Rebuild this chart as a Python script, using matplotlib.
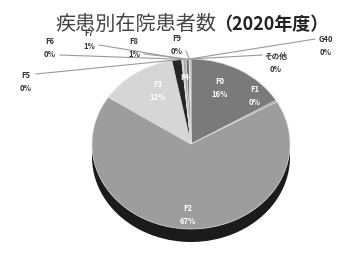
import matplotlib
matplotlib.use('Agg')
import matplotlib.pyplot as plt
import numpy as np

plt.rcParams['font.family'] = ['Noto Sans CJK JP', 'DejaVu Sans']

# share of inpatients per disease group (percent)
groups = ['F0', 'F1', 'F2', 'F3', 'F4', 'F5', 'F6', 'F7', 'F8', 'F9', 'G40', 'その他']
shares = [16.4, 0.3, 67.4, 12.6, 1.6, 0.1, 0.1, 0.5, 0.5, 0.05, 0.05, 0.2]
pct_labels = ['16%', '0%', '67%', '12%', '', '0%', '0%', '1%', '1%', '0%', '0%', '0%']

top_colors = ['#7a7a7a', '#858585', '#9d9d9d', '#d6d6d6', '#262626', '#bdbdbd',
              '#8c8c8c', '#a8a8a8', '#707070', '#b0b0b0', '#909090', '#a0a0a0']

# pie geometry in pixels of the 339x255 picture
W, H = 339, 255
cx, cy, rx, ry = 191, 145, 99, 85
depth = 13

def px(x, y):
    return ((x - cx) / rx, (cy - y) / ry)

fig = plt.figure(figsize=(W / 100, H / 100), dpi=100)
ax = fig.add_axes([0, 0, 1, 1])
ax.axis('off')

# side of the 3d disc
ax.pie(shares, colors=['#1b1b1b'] * len(shares), startangle=90, counterclock=False,
       center=(0, -depth / ry), wedgeprops=dict(linewidth=0))
# top face
wedges, _ = ax.pie(shares, colors=top_colors, startangle=90, counterclock=False,
                   wedgeprops=dict(edgecolor='#e0e0e0', linewidth=0.5))
ax.set_aspect('auto')
ax.set_xlim(-cx / rx, (W - cx) / rx)
ax.set_ylim(-(H - cy) / ry, cy / ry)

# label layout: text centre (px), inside?, leader start (px)
layout = {
    'F0': ((220, 88), True, None),
    'F1': ((255, 96), True, None),
    'F2': ((188, 215), True, None),
    'F3': ((158, 91), True, None),
    'F4': ((185, 78), True, None),
    'F5': ((26, 82), False, (36, 75)),
    'F6': ((50, 48), False, (60, 56)),
    'F7': ((89, 40), False, (99, 46)),
    'F8': ((134, 48), False, (144, 55)),
    'F9': ((177, 45), False, (186, 52)),
    'G40': ((326, 46), False, (315, 40)),
    'その他': ((276, 63), False, (262, 56)),
}

total = sum(shares)
cum = 0.0
for name, val, pct in zip(groups, shares, pct_labels):
    mid = np.deg2rad(90 - 360 * (cum + val / 2) / total)
    cum += val
    (tx, ty), inside, start = layout[name]
    text = name + ('\n' + pct if pct else '')
    ax.text(*px(tx, ty), text, ha='center', va='center', fontsize=5.5,
            fontweight='bold', linespacing=1.7,
            color='white' if inside else '#333333')
    if start is not None:
        ax.plot([px(*start)[0], np.cos(mid)], [px(*start)[1], np.sin(mid)],
                color='#9a9a9a', linewidth=0.8)

fig.text(216 / W, 1 - 24 / H, '疾患別在院患者数', ha='right', va='center',
         fontsize=14.5, color='#444444')
fig.text(214 / W, 1 - 24 / H, '（2020年度）', ha='left', va='center',
         fontsize=13, fontweight='bold', color='#222222')

fig.savefig('out.png', dpi=100, facecolor='white')
